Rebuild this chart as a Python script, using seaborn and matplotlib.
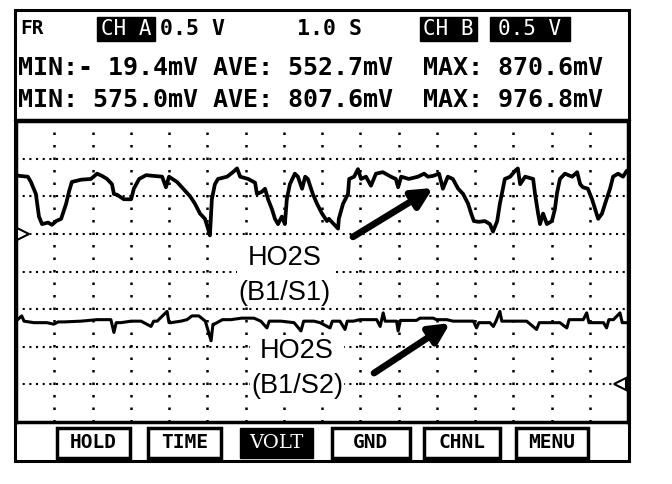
import matplotlib
matplotlib.use("Agg")
import pandas as pd
import matplotlib.pyplot as plt
import seaborn as sns
from matplotlib.patches import Rectangle

# CH A trace, HO2S (B1/S1): time [s], voltage [V]
t_a = [0.00, 0.10, 0.31, 0.39, 0.52, 0.60, 0.68, 0.84, 0.94, 1.05, 1.18, 1.31, 1.39, 1.46, 1.70, 1.96,
       2.12, 2.25, 2.38, 2.51, 2.56, 2.64, 2.82, 3.01, 3.08, 3.22, 3.40, 3.61, 3.82, 3.92, 4.00, 4.21,
       4.37, 4.55, 4.68, 4.81, 4.94, 5.02, 5.07, 5.12, 5.20, 5.28, 5.52, 5.67, 5.78, 5.86, 6.07, 6.25,
       6.30, 6.43, 6.51, 6.59, 6.69, 6.77, 6.85, 6.95, 7.03, 7.08, 7.16, 7.29, 7.37, 7.48, 7.56, 7.63,
       7.76, 7.87, 8.00, 8.13, 8.18, 8.31, 8.42, 8.44, 8.55, 8.68, 8.71, 8.84, 8.94, 9.02, 9.15, 9.28,
       9.41, 9.59, 9.80, 9.93, 9.99, 10.07, 10.27, 10.51, 10.67, 10.77, 10.90, 11.06, 11.16, 11.29,
       11.42, 11.56, 11.69, 11.82, 11.90, 11.97, 12.10, 12.26, 12.39, 12.47, 12.58, 12.65, 12.73,
       12.78, 12.92, 13.05, 13.12, 13.18, 13.31, 13.52, 13.57, 13.65, 13.70, 13.78, 13.88, 14.01,
       14.09, 14.14, 14.22, 14.35, 14.54, 14.67, 14.75, 14.82, 14.95, 15.06, 15.14, 15.22, 15.32,
       15.40, 15.53, 15.61, 15.74, 15.87, 15.97]
v_a = [0.78, 0.77, 0.76, 0.69, 0.53, 0.23, 0.13, 0.15, 0.12, 0.17, 0.20, 0.40, 0.57, 0.69, 0.72, 0.73,
       0.80, 0.77, 0.73, 0.66, 0.53, 0.52, 0.46, 0.46, 0.60, 0.73, 0.78, 0.77, 0.76, 0.62, 0.76, 0.69,
       0.60, 0.50, 0.40, 0.27, 0.20, 0.07, -0.02, 0.46, 0.66, 0.73, 0.76, 0.82, 0.87, 0.76, 0.73, 0.68,
       0.53, 0.56, 0.60, 0.46, 0.33, 0.20, 0.13, 0.23, 0.13, 0.46, 0.66, 0.80, 0.76, 0.60, 0.76, 0.73,
       0.53, 0.40, 0.27, 0.17, 0.20, 0.13, 0.07, 0.20, 0.40, 0.53, 0.73, 0.76, 0.86, 0.73, 0.76, 0.64,
       0.80, 0.82, 0.76, 0.73, 0.62, 0.76, 0.73, 0.76, 0.80, 0.76, 0.77, 0.80, 0.60, 0.76,
       0.73, 0.60, 0.53, 0.40, 0.27, 0.17, 0.16, 0.17, 0.13, 0.03, 0.17, 0.40, 0.60,
       0.73, 0.76, 0.84, 0.87, 0.66, 0.76, 0.73, 0.53, 0.27, 0.13, 0.27, 0.13, 0.17,
       0.33, 0.53, 0.73, 0.80, 0.76, 0.82, 0.66, 0.62, 0.60, 0.46, 0.33, 0.20, 0.27,
       0.40, 0.60, 0.76, 0.80, 0.76, 0.84]

# CH B trace, HO2S (B1/S2): time [s], voltage [V]
t_b = [0.00, 0.15, 0.21, 0.47, 0.81, 0.99, 1.10, 1.25, 1.70, 2.12, 2.48, 2.56, 2.62, 2.74, 3.01, 3.27,
       3.53, 3.60, 3.69, 3.95, 4.00, 4.05, 4.31, 4.47, 4.60, 4.78, 4.95, 5.10, 5.15, 5.18, 5.40, 5.62,
       5.90, 6.22, 6.40, 6.56, 6.62, 6.93, 7.27, 7.45, 7.52, 7.79, 7.95, 8.21, 8.27, 8.47, 8.60, 8.66,
       8.82, 8.99, 9.43, 9.52, 9.60, 9.65, 9.95, 9.99, 10.05, 10.47, 10.56, 10.91, 10.99, 11.26, 11.43,
       11.96, 12.04, 12.10, 12.39, 12.48, 12.55, 12.65, 12.70, 12.83, 13.35, 13.61, 13.68, 13.87, 14.22,
       14.40, 14.46, 14.57, 14.83, 14.92, 14.98, 15.09, 15.36, 15.44, 15.50, 15.62, 15.79, 15.85, 15.97]
v_b = [0.84, 0.91, 0.84, 0.82, 0.82, 0.80, 0.83, 0.83, 0.84, 0.86, 0.86, 0.69, 0.82, 0.82, 0.84, 0.84,
       0.77, 0.84, 0.84, 0.97, 0.82, 0.82, 0.84, 0.86, 0.91, 0.91, 0.84, 0.58, 0.80, 0.80, 0.86, 0.86,
       0.88, 0.88, 0.84, 0.75, 0.84, 0.84, 0.82, 0.71, 0.84, 0.84, 0.82, 0.75, 0.84, 0.84, 0.73, 0.84,
       0.84, 0.86, 0.86, 0.77, 0.95, 0.84, 0.84, 0.71, 0.85, 0.85, 0.88, 0.88, 0.86, 0.86, 0.84,
       0.84, 0.75, 0.82, 0.82, 0.77, 0.84, 0.97, 0.84, 0.84, 0.84, 0.73, 0.82, 0.82, 0.82,
       0.75, 0.86, 0.86, 0.86, 0.95, 0.82, 0.82, 0.82, 0.75, 0.86, 0.86, 0.95, 0.82, 0.82]

volts_per_div = 0.5
zero_a = 5  # grid division of CH A ground marker
zero_b = 1  # grid division of CH B ground marker

stats_a = "MIN:- 19.4mV AVE: 552.7mV  MAX: 870.6mV"
stats_b = "MIN: 575.0mV AVE: 807.6mV  MAX: 976.8mV"
buttons = ["HOLD", "TIME", "VOLT", "GND", "CHNL", "MENU"]
button_x = [(57, 130), (148, 221), (240, 313), (332, 410), (424, 500), (516, 588)]

sns.set_theme(style="white")
plt.rcParams['font.family'] = ['DejaVu Sans']

df_a = pd.DataFrame({'t': t_a, 'div': [zero_a + v / volts_per_div for v in v_a]})
df_b = pd.DataFrame({'t': t_b, 'div': [zero_b + v / volts_per_div for v in v_b]})

fig = plt.figure(figsize=(6.72, 4.84), dpi=100)
fig.patch.set_facecolor('white')
ax = fig.add_axes([16 / 672, (484 - 422) / 484, 612 / 672, 301 / 484])
ax.set_xlim(0, 16)
ax.set_ylim(0, 8)

for k in range(1, 16):
    ax.axvline(k, color='black', lw=1.8, ls=(0, (1, 4)), zorder=1)
for k in range(1, 8):
    ax.axhline(k, color='black', lw=1.5, ls=(0, (1, 2.2)), zorder=1)

sns.lineplot(data=df_a, x='t', y='div', ax=ax, color='black', lw=2.7,
             estimator=None, sort=False, zorder=3)
sns.lineplot(data=df_b, x='t', y='div', ax=ax, color='black', lw=2.2,
             estimator=None, sort=False, zorder=3)

# ground markers
ax.plot([0.18], [zero_a], marker='>', ms=9, mfc='white', mec='black', mew=1.5, clip_on=False, zorder=4)
ax.plot([15.8], [zero_b], marker='<', ms=9, mfc='white', mec='black', mew=1.5, clip_on=False, zorder=4)

ax.set_xticks([])
ax.set_yticks([])
ax.set_xlabel('')
ax.set_ylabel('')
for s in ax.spines.values():
    s.set_linewidth(2.5)
    s.set_color('black')

lab_font = dict(family='Liberation Sans', fontsize=19.5, ha='center', va='center',
                linespacing=1.45, color='black', zorder=5,
                bbox=dict(facecolor='white', edgecolor='none', pad=1))
ax.text(7.03, 3.9, "HO2S\n(B1/S1)", **lab_font)
ax.text(7.35, 1.42, "HO2S\n(B1/S2)", **lab_font)
arrow = dict(arrowstyle='-|>,head_length=1.0,head_width=0.5', lw=4.8, color='black',
             shrinkA=0, shrinkB=0)
ax.annotate('', xy=(10.9, 6.22), xytext=(8.81, 4.92), arrowprops=arrow, zorder=6)
ax.annotate('', xy=(11.35, 2.63), xytext=(9.36, 1.30), arrowprops=arrow, zorder=6)

# screen frame, header and soft-key row
ov = fig.add_axes([0, 0, 1, 1])
ov.set_xlim(0, 672)
ov.set_ylim(484, 0)
ov.axis('off')
ov.patch.set_alpha(0)
ov.add_patch(Rectangle((15, 10), 614, 451, fill=False, lw=2.2, ec='black'))
ov.plot([15, 629], [120, 120], color='black', lw=2.5)

mono = dict(family='DejaVu Sans Mono', va='center', color='black')
ov.text(20, 29, "FR", fontsize=14, weight='bold', **mono)
ov.add_patch(Rectangle((97, 17), 58, 24, color='black'))
ov.text(126, 29, "CH A", fontsize=15, ha='center', family='DejaVu Sans Mono', va='center', color='white')
ov.text(160, 29, "0.5 V", fontsize=15.5, weight='bold', **mono)
ov.text(297, 29, "1.0 S", fontsize=15.5, weight='bold', **mono)
ov.add_patch(Rectangle((420, 17), 57, 24, color='black'))
ov.text(448, 29, "CH B", fontsize=15, ha='center', family='DejaVu Sans Mono', va='center', color='white')
ov.add_patch(Rectangle((490, 17), 80, 24, color='black'))
ov.text(530, 29, "0.5 V", fontsize=15, ha='center', family='DejaVu Sans Mono', va='center', color='white')

ov.text(18, 68, stats_a, fontsize=18, weight='bold', **mono)
ov.text(18, 100, stats_b, fontsize=18, weight='bold', **mono)

for name, (x0, x1) in zip(buttons, button_x):
    if name == "VOLT":
        ov.add_patch(Rectangle((x0, 428), x1 - x0, 30, color='black'))
        ov.text((x0 + x1) / 2, 443, name, fontsize=14, ha='center', va='center',
                family='DejaVu Serif', color='white')
    else:
        ov.add_patch(Rectangle((x0, 428), x1 - x0, 30, fill=False, lw=2.5, ec='black'))
        ov.text((x0 + x1) / 2, 443, name, fontsize=14, ha='center', va='center',
                family='DejaVu Sans Mono', weight='bold', color='black')

fig.savefig("out.png", dpi=100)
